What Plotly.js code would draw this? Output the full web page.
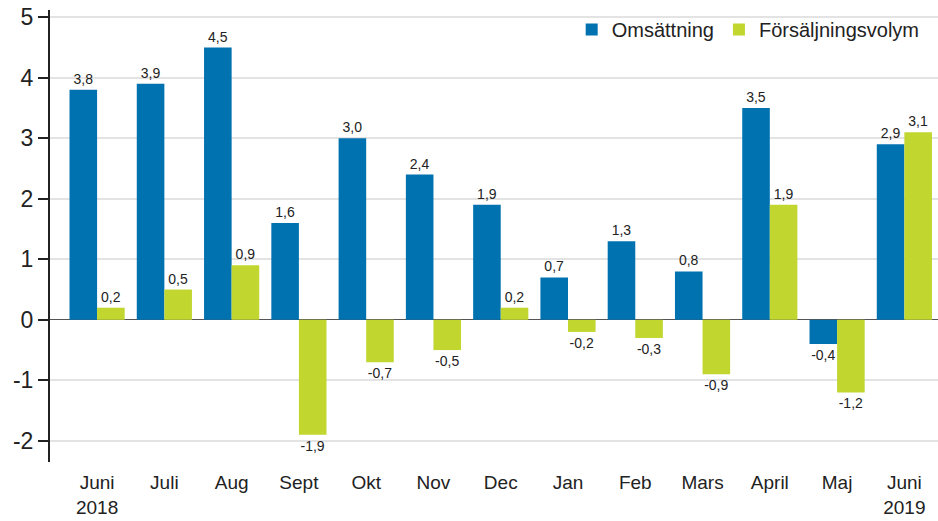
<!DOCTYPE html>
<html>
<head>
<meta charset="utf-8">
<script src="https://cdn.plot.ly/plotly-3.0.1.min.js"></script>
<style>html,body{margin:0;padding:0;background:#fff;}#chart{width:938px;height:521px;}</style>
</head>
<body>
<div id="chart"></div>
<script>
const categories = ["Juni<br>2018","Juli","Aug","Sept","Okt","Nov","Dec","Jan","Feb","Mars","April","Maj","Juni<br>2019"];
const omsattning = [3.8, 3.9, 4.5, 1.6, 3.0, 2.4, 1.9, 0.7, 1.3, 0.8, 3.5, -0.4, 2.9];
const forsaljningsvolym = [0.2, 0.5, 0.9, -1.9, -0.7, -0.5, 0.2, -0.2, -0.3, -0.9, 1.9, -1.2, 3.1];
const yTicks = [-2, -1, 0, 1, 2, 3, 4, 5];

const idx = categories.map((_, i) => i);

const common = {
  type: 'bar',
  x: idx,
  texttemplate: '%{y:.1f}',
  textposition: 'outside',
  cliponaxis: false,
  textfont: {family: 'Liberation Sans, Arial, sans-serif', size: 14, color: '#222'},
  hoverinfo: 'skip'
};

const data = [
  Object.assign({}, common, {name: 'Omsättning', y: omsattning, marker: {color: '#0072B0'}}),
  Object.assign({}, common, {name: 'Försäljningsvolym', y: forsaljningsvolym, marker: {color: '#C1D62F'}})
];

const layout = {
  width: 938, height: 521,
  margin: {l: 50, r: 0, t: 10, b: 59},
  separators: ',.',
  barmode: 'group',
  bargap: 0.18,
  bargroupgap: 0.0,
  paper_bgcolor: '#fff',
  plot_bgcolor: '#fff',
  font: {family: 'Liberation Sans, Arial, sans-serif', color: '#222'},
  showlegend: true,
  legend: {
    orientation: 'h', x: 0.985, xanchor: 'right', y: 1.0, yanchor: 'top',
    font: {size: 20, color: '#222'}, bgcolor: 'rgba(255,255,255,0)',
    itemwidth: 30, traceorder: 'normal'
  },
  xaxis: {
    range: [-0.7, 12.5],
    tickmode: 'array', tickvals: idx, ticktext: categories,
    tickfont: {size: 19, color: '#222'},
    showgrid: false, zeroline: false, showline: false, ticks: '',
    ticklabelstandoff: 7,
    fixedrange: true
  },
  yaxis: {
    range: [-2.35, 5.12],
    tickmode: 'array', tickvals: yTicks, ticktext: yTicks.map(String),
    tickfont: {size: 23, color: '#222'},
    showgrid: true, gridcolor: '#e3e3e3', gridwidth: 2,
    zeroline: true, zerolinecolor: '#555', zerolinewidth: 1,
    showline: true, linecolor: '#222', linewidth: 2,
    ticks: 'outside', ticklen: 10, tickcolor: '#222', tickwidth: 2,
    fixedrange: true
  }
};

Plotly.newPlot('chart', data, layout, {displayModeBar: false, staticPlot: true});
</script>
</body>
</html>
